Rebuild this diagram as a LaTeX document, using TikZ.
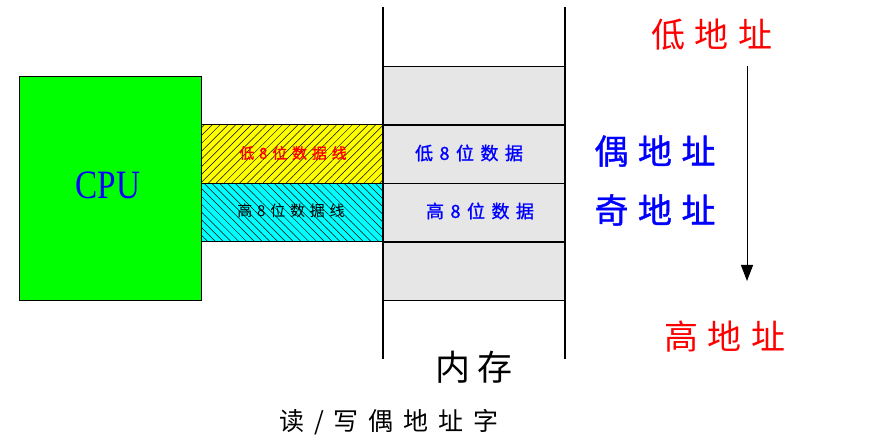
\documentclass[tikz,border=0pt]{standalone}
\usepackage{fontspec}
\setmainfont{Liberation Serif}
\newfontfamily\cjk{Noto Sans CJK SC}
\newfontfamily\cjkb[FakeBold=1.2]{Noto Sans CJK SC}
\usetikzlibrary{arrows.meta,patterns.meta}
\definecolor{memgray}{RGB}{230,230,230}
\definecolor{cpugreen}{RGB}{0,255,0}
\definecolor{bandyellow}{RGB}{255,255,0}
\definecolor{bandcyan}{RGB}{0,255,255}
\definecolor{txtred}{RGB}{255,0,0}
\definecolor{txtblue}{RGB}{0,0,255}
\tikzset{
  box/.style={draw=black, line width=1.2pt, inner sep=0pt, anchor=north west},
  cell/.style={box, fill=memgray, minimum width=182pt, minimum height=58.5pt},
  bigred/.style={text=txtred, font=\cjk\fontsize{34pt}{34pt}\selectfont\addfontfeature{LetterSpace=28}},
  bigblue/.style={text=txtblue, font=\cjkb\fontsize{34pt}{34pt}\selectfont\addfontfeature{LetterSpace=28}},
  celltext/.style={text=txtblue, font=\cjkb\fontsize{18pt}{18pt}\selectfont\addfontfeature{LetterSpace=36}},
  bandtext/.style={font=\cjk\fontsize{15pt}{15pt}\selectfont\addfontfeature{LetterSpace=32}},
  bandtextb/.style={text=txtred, font=\cjkb\fontsize{15pt}{15pt}\selectfont\addfontfeature{LetterSpace=32}},
}
\begin{document}
\begin{tikzpicture}[x=1pt,y=-1pt]
\useasboundingbox (0,0) rectangle (892,446);
% CPU
\node[box, fill=cpugreen, minimum width=182pt, minimum height=224pt] (cpu) at (19,76) {};
\node[text=txtblue, font=\fontsize{35pt}{35pt}\selectfont] (cputxt) at (108,185) {\scalebox{0.95}[1.15]{CPU}};
% data bands
\node[box, minimum width=182pt, minimum height=59pt,
  preaction={fill=bandyellow},
  pattern={Lines[angle=45,distance=5.5pt,line width=0.5pt]}, pattern color=black] (low) at (201,124) {};
\node[box, minimum width=182pt, minimum height=58pt,
  preaction={fill=bandcyan},
  pattern={Lines[angle=-45,distance=5.5pt,line width=0.5pt]}, pattern color=black] (high) at (201,183) {};
\node[bandtextb] (lowtxt) at (293,153) {低8位数据线};
\node[bandtext] (hightxt) at (291,211) {高8位数据线};
% memory cells
\node[cell] (m1) at (383,66) {};
\node[cell] (m2) at (383,124.5) {};
\node[cell] (m3) at (383,183) {};
\node[cell] (m4) at (383,241.5) {};
\node[celltext] (m2txt) at (469,153) {低8位数据};
\node[celltext] (m3txt) at (480,211) {高8位数据};
% memory side lines
\coordinate (lt) at (383,7);
\coordinate (lb) at (383,359);
\coordinate (rt) at (565,7);
\coordinate (rb) at (565,359);
\draw[line width=1.2pt] (lt) -- (lb);
\draw[line width=1.2pt] (rt) -- (rb);
% labels
\node[text=black, font=\cjk\fontsize{35pt}{35pt}\selectfont\addfontfeature{LetterSpace=20}] (mem) at (474,367) {内存};
\node[text=black, font=\cjk\fontsize{25pt}{25pt}\selectfont\addfontfeature{LetterSpace=40}] (rw) at (389,422) {读/写偶地址字};
\node[bigred] (lowaddr) at (712,35) {低地址};
\node[bigblue] (even) at (655,151) {偶地址};
\node[bigblue] (odd) at (655,210) {奇地址};
\node[bigred] (highaddr) at (725,337) {高地址};
% arrow
\coordinate (as) at (747,66);
\coordinate (ae) at (747,281);
\draw[line width=1pt, -{Triangle[width=12pt,length=16pt]}] (as) -- (ae);
\end{tikzpicture}
\end{document}
